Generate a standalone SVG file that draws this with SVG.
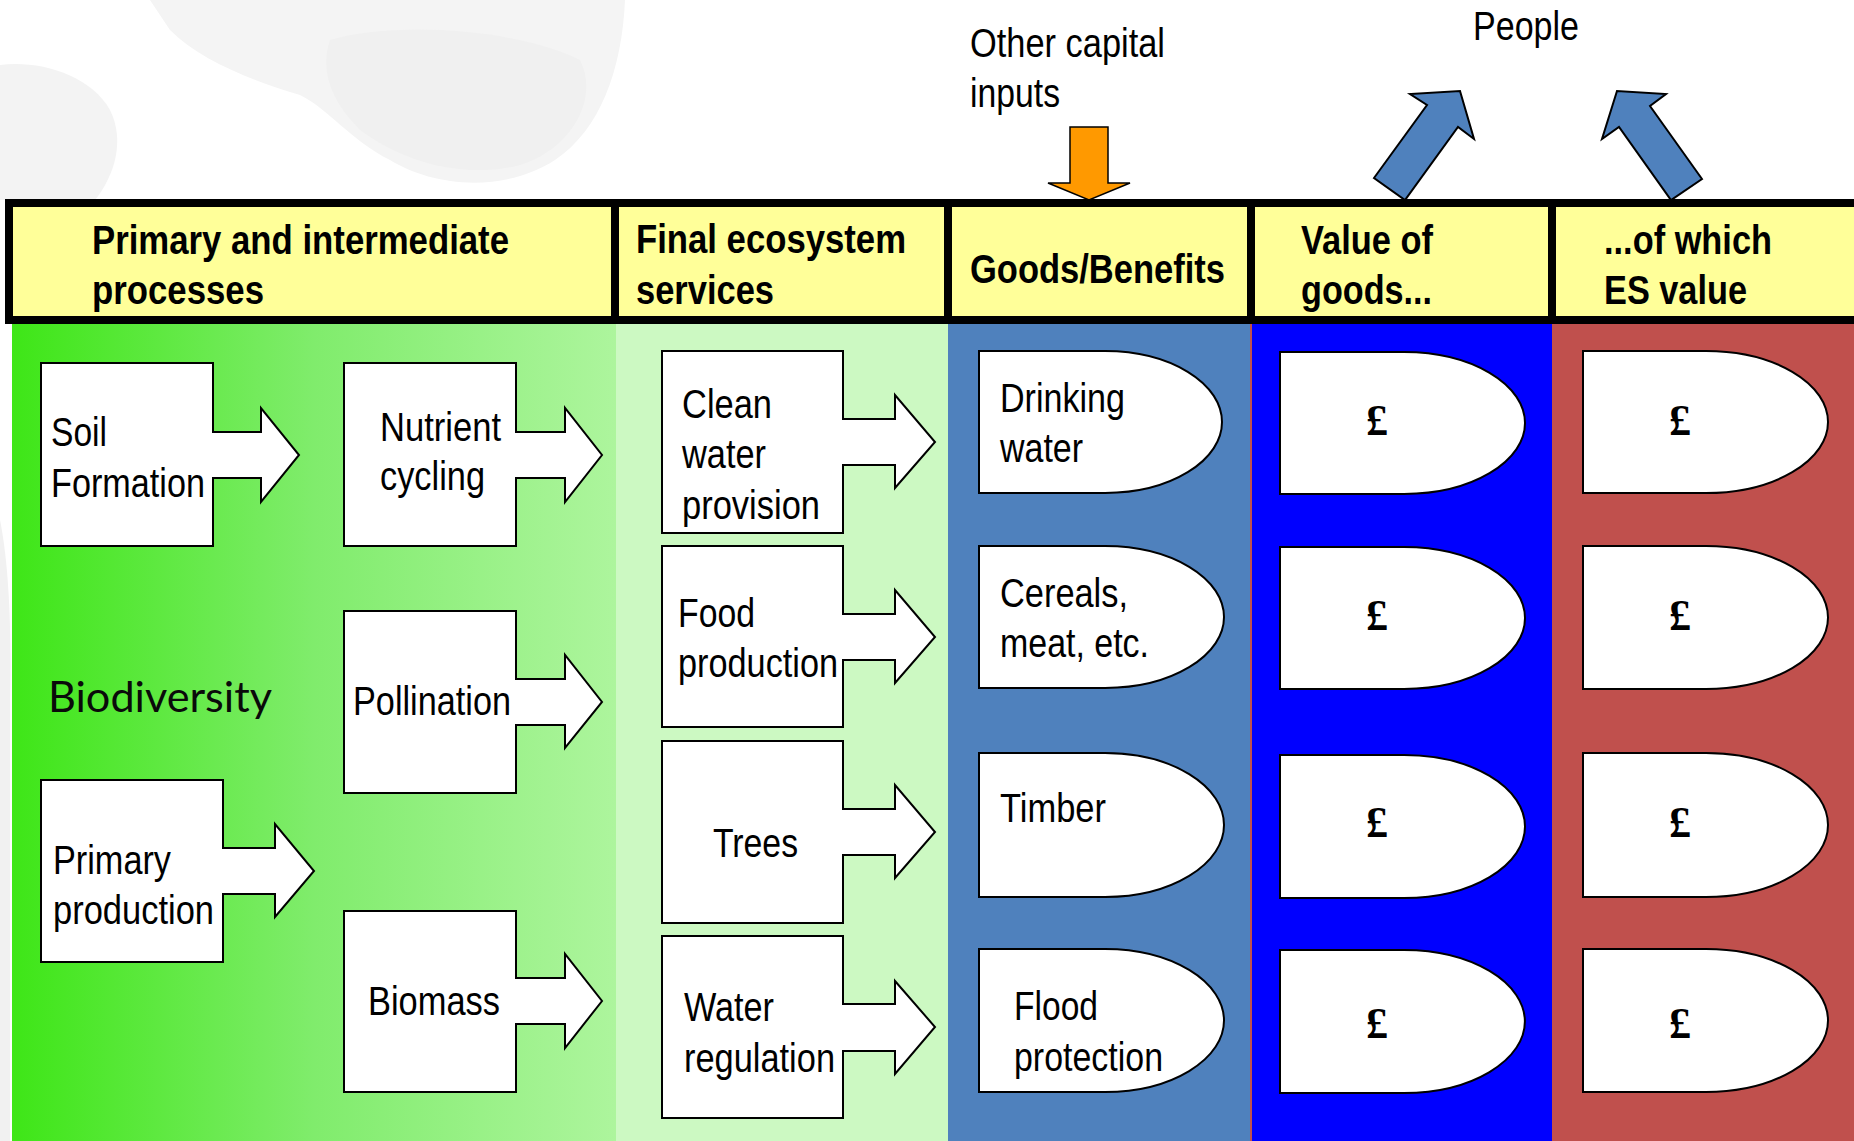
<svg xmlns="http://www.w3.org/2000/svg" width="1854" height="1141" viewBox="0 0 1854 1141">
<defs>
<linearGradient id="g1" x1="0" y1="0" x2="1" y2="0">
<stop offset="0" stop-color="#3EE617"/>
<stop offset="0.5" stop-color="#80EC6C"/>
<stop offset="1" stop-color="#ADF59D"/>
</linearGradient>
<style>
.t{font-family:"Liberation Sans Narrow","Liberation Sans",Arial,sans-serif;font-size:41px;fill:#000}
.h{font-family:"Liberation Sans Narrow","Liberation Sans",Arial,sans-serif;font-size:41px;font-weight:bold;fill:#000}
.hdr{fill:#FFFF99;stroke:#000;stroke-width:8}
.box{fill:#fff;stroke:#000;stroke-width:2}
.pd{font-family:"Liberation Serif","DejaVu Serif",serif;font-size:44px;font-weight:bold;fill:#000}
.bio{font-family:Lato,"Open Sans",sans-serif;font-size:42px;fill:#0a0a0a}
.up{fill:#4F81BD;stroke:#000;stroke-width:2}
</style>
</defs>
<rect width="1854" height="1141" fill="#fff"/>
<g id="watermark">
<path fill="#F4F4F4" d="M150,0 L625,0 C622,70 600,130 555,160 C500,195 430,185 390,160 C350,140 330,110 300,95 C250,80 200,60 170,30 Z"/>
<path fill="#F0F0F0" d="M330,40 C400,20 520,30 580,60 C600,100 570,150 520,165 C460,180 400,160 360,130 C330,100 320,70 330,40 Z"/>
<path fill="#F3F3F3" d="M0,65 C40,60 90,75 110,110 C125,140 115,175 95,200 L0,200 Z"/>
<path fill="#F1F1F1" d="M0,520 C8,560 12,620 10,700 L10,1141 L0,1141 Z"/>
</g>
<g id="columns">
<rect x="12" y="320" width="604" height="821" fill="url(#g1)"/>
<rect x="616" y="320" width="332" height="821" fill="#CCF9C2"/>
<rect x="948" y="320" width="303" height="821" fill="#4F81BD"/>
<rect x="1251" y="320" width="301" height="821" fill="#0000FF"/>
<rect x="1250" y="320" width="2" height="821" fill="#C0504D"/>
<rect x="1552" y="320" width="302" height="821" fill="#C0504D"/>
</g>
<g id="header">
<rect class="hdr" x="9" y="203" width="606" height="117"/>
<rect class="hdr" x="615" y="203" width="333" height="117"/>
<rect class="hdr" x="948" y="203" width="303" height="117"/>
<rect class="hdr" x="1251" y="203" width="301" height="117"/>
<rect class="hdr" x="1552" y="203" width="310" height="117"/>
<text class="h" x="92" y="254" textLength="417" lengthAdjust="spacingAndGlyphs">Primary and intermediate</text>
<text class="h" x="92" y="304" textLength="172" lengthAdjust="spacingAndGlyphs">processes</text>
<text class="h" x="636" y="253" textLength="270" lengthAdjust="spacingAndGlyphs">Final ecosystem</text>
<text class="h" x="636" y="304" textLength="138" lengthAdjust="spacingAndGlyphs">services</text>
<text class="h" x="970" y="283" textLength="255" lengthAdjust="spacingAndGlyphs">Goods/Benefits</text>
<text class="h" x="1301" y="254" textLength="132" lengthAdjust="spacingAndGlyphs">Value of</text>
<text class="h" x="1301" y="304" textLength="131" lengthAdjust="spacingAndGlyphs">goods...</text>
<text class="h" x="1604" y="254" textLength="168" lengthAdjust="spacingAndGlyphs">...of which</text>
<text class="h" x="1604" y="304" textLength="143" lengthAdjust="spacingAndGlyphs">ES value</text>
</g>
<g id="top-labels">
<text class="t" x="970" y="57" textLength="195" lengthAdjust="spacingAndGlyphs">Other capital</text>
<text class="t" x="970" y="107" textLength="90" lengthAdjust="spacingAndGlyphs">inputs</text>
<text class="t" x="1473" y="40" textLength="106" lengthAdjust="spacingAndGlyphs">People</text>
</g>
<g id="connectors">
<polygon points="1070,127 1108,127 1108,183 1130,183 1089,200 1048,183 1070,183" fill="#FF9900" stroke="#000" stroke-width="1.5"/>
<polygon class="up" points="1374,178 1427,105 1410,94 1460,91 1474,139 1458,127 1405,200"/>
<polygon class="up" points="1702,179 1650,106 1666,94 1617,91 1602,139 1619,127 1671,200"/>
</g>
<g id="biodiversity">
<text class="bio" x="48" y="712" textLength="224" lengthAdjust="spacingAndGlyphs">Biodiversity</text>
</g>
<g id="soil-formation">
<path class="box" d="M41,363 H213 V432 H261 V408 L299,455 L261,502 V478 H213 V546 H41 Z"/>
<text class="t" x="51" y="446" textLength="56" lengthAdjust="spacingAndGlyphs">Soil</text>
<text class="t" x="51" y="497" textLength="154" lengthAdjust="spacingAndGlyphs">Formation</text>
</g>
<g id="nutrient-cycling">
<path class="box" d="M344,363 H516 V432 H565 V408 L602,455 L565,502 V478 H516 V546 H344 Z"/>
<text class="t" x="380" y="441" textLength="121" lengthAdjust="spacingAndGlyphs">Nutrient</text>
<text class="t" x="380" y="490" textLength="105" lengthAdjust="spacingAndGlyphs">cycling</text>
</g>
<g id="pollination">
<path class="box" d="M344,611 H516 V679 H565 V655 L602,702 L565,748 V725 H516 V793 H344 Z"/>
<text class="t" x="353" y="715" textLength="158" lengthAdjust="spacingAndGlyphs">Pollination</text>
</g>
<g id="primary-production">
<path class="box" d="M41,780 H223 V848 H275 V824 L314,871 L275,917 V894 H223 V962 H41 Z"/>
<text class="t" x="53" y="874" textLength="118" lengthAdjust="spacingAndGlyphs">Primary</text>
<text class="t" x="53" y="924" textLength="161" lengthAdjust="spacingAndGlyphs">production</text>
</g>
<g id="biomass">
<path class="box" d="M344,911 H516 V978 H565 V954 L602,1001 L565,1048 V1024 H516 V1092 H344 Z"/>
<text class="t" x="368" y="1015" textLength="132" lengthAdjust="spacingAndGlyphs">Biomass</text>
</g>
<g id="clean-water">
<path class="box" d="M662,351 H843 V419 H895 V395 L935,442 L895,488 V465 H843 V533 H662 Z"/>
<text class="t" x="682" y="418" textLength="90" lengthAdjust="spacingAndGlyphs">Clean</text>
<text class="t" x="682" y="468" textLength="84" lengthAdjust="spacingAndGlyphs">water</text>
<text class="t" x="682" y="519" textLength="138" lengthAdjust="spacingAndGlyphs">provision</text>
</g>
<g id="food-production">
<path class="box" d="M662,546 H843 V614 H895 V590 L935,637 L895,683 V660 H843 V727 H662 Z"/>
<text class="t" x="678" y="627" textLength="77" lengthAdjust="spacingAndGlyphs">Food</text>
<text class="t" x="678" y="677" textLength="160" lengthAdjust="spacingAndGlyphs">production</text>
</g>
<g id="trees">
<path class="box" d="M662,741 H843 V809 H895 V785 L935,832 L895,878 V855 H843 V923 H662 Z"/>
<text class="t" x="713" y="857" textLength="85" lengthAdjust="spacingAndGlyphs">Trees</text>
</g>
<g id="water-regulation">
<path class="box" d="M662,936 H843 V1004 H895 V981 L935,1027 L895,1074 V1051 H843 V1118 H662 Z"/>
<text class="t" x="684" y="1021" textLength="90" lengthAdjust="spacingAndGlyphs">Water</text>
<text class="t" x="684" y="1072" textLength="151" lengthAdjust="spacingAndGlyphs">regulation</text>
</g>
<g id="drinking-water">
<path class="box" d="M979,351 H1105 A117,71 0 0 1 1105,493 H979 Z"/>
<text class="t" x="1000" y="412" textLength="125" lengthAdjust="spacingAndGlyphs">Drinking</text>
<text class="t" x="1000" y="462" textLength="83" lengthAdjust="spacingAndGlyphs">water</text>
</g>
<g id="cereals">
<path class="box" d="M979,546 H1105 A119,71 0 0 1 1105,688 H979 Z"/>
<text class="t" x="1000" y="607" textLength="128" lengthAdjust="spacingAndGlyphs">Cereals,</text>
<text class="t" x="1000" y="657" textLength="149" lengthAdjust="spacingAndGlyphs">meat, etc.</text>
</g>
<g id="timber">
<path class="box" d="M979,753 H1105 A119,72 0 0 1 1105,897 H979 Z"/>
<text class="t" x="1000" y="822" textLength="106" lengthAdjust="spacingAndGlyphs">Timber</text>
</g>
<g id="flood-protection">
<path class="box" d="M979,949 H1105 A119,71.5 0 0 1 1105,1092 H979 Z"/>
<text class="t" x="1014" y="1020" textLength="84" lengthAdjust="spacingAndGlyphs">Flood</text>
<text class="t" x="1014" y="1071" textLength="149" lengthAdjust="spacingAndGlyphs">protection</text>
</g>
<g id="value-1">
<path class="box" d="M1280,352 H1404 A121,71 0 0 1 1404,494 H1280 Z"/>
<text class="pd" x="1377" y="435" text-anchor="middle">£</text>
</g>
<g id="value-2">
<path class="box" d="M1280,547 H1404 A121,71 0 0 1 1404,689 H1280 Z"/>
<text class="pd" x="1377" y="630" text-anchor="middle">£</text>
</g>
<g id="value-3">
<path class="box" d="M1280,755 H1404 A121,71.5 0 0 1 1404,898 H1280 Z"/>
<text class="pd" x="1377" y="837" text-anchor="middle">£</text>
</g>
<g id="value-4">
<path class="box" d="M1280,950 H1404 A121,71.5 0 0 1 1404,1093 H1280 Z"/>
<text class="pd" x="1377" y="1038" text-anchor="middle">£</text>
</g>
<g id="es-1">
<path class="box" d="M1583,351 H1706 A122,71 0 0 1 1706,493 H1583 Z"/>
<text class="pd" x="1680" y="435" text-anchor="middle">£</text>
</g>
<g id="es-2">
<path class="box" d="M1583,546 H1706 A122,71.5 0 0 1 1706,689 H1583 Z"/>
<text class="pd" x="1680" y="630" text-anchor="middle">£</text>
</g>
<g id="es-3">
<path class="box" d="M1583,753 H1706 A122,72 0 0 1 1706,897 H1583 Z"/>
<text class="pd" x="1680" y="837" text-anchor="middle">£</text>
</g>
<g id="es-4">
<path class="box" d="M1583,949 H1706 A122,71.5 0 0 1 1706,1092 H1583 Z"/>
<text class="pd" x="1680" y="1038" text-anchor="middle">£</text>
</g>
</svg>
